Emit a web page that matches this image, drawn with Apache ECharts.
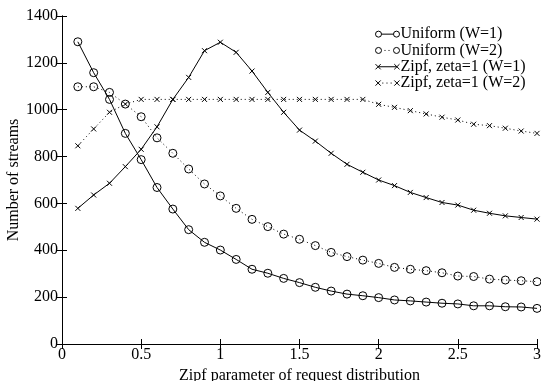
<!DOCTYPE html>
<html>
<head>
<meta charset="utf-8">
<script src="https://cdn.jsdelivr.net/npm/echarts@6/dist/echarts.min.js"></script>
<style>html,body{margin:0;padding:0;background:#fff}#c{width:541px;height:381px}</style>
</head>
<body>
<div id="c"></div>
<script>
var xValues = [0.1,0.2,0.3,0.4,0.5,0.6,0.7,0.8,0.9,1.0,1.1,1.2,1.3,1.4,1.5,1.6,1.7,1.8,1.9,2.0,2.1,2.2,2.3,2.4,2.5,2.6,2.7,2.8,2.9,3.0];
var uniformW1 = [1290,1158,1044,899,787,668,576,488,434,401,361,319,302,280,262,242,226,213,206,198,188,184,179,174,171,163,163,159,158,152];
var uniformW2 = [1098,1098,1074,1024,970,880,814,747,683,632,579,532,501,469,447,420,391,373,358,344,327,319,313,304,290,288,277,273,270,266];
var zipfW1 = [579,636,686,757,831,927,1044,1138,1252,1288,1245,1165,1074,989,913,866,814,767,733,700,676,647,625,604,593,571,558,547,540,533];
var zipfW2 = [846,918,989,1024,1044,1044,1044,1044,1044,1044,1044,1044,1044,1044,1044,1044,1044,1044,1044,1023,1010,996,982,968,956,938,932,921,909,899];
var seriesNames = ['Uniform (W=1)','Uniform (W=2)','Zipf, zeta=1 (W=1)','Zipf, zeta=1 (W=2)'];
var xTitle = 'Zipf parameter of request distribution';
var yTitle = 'Number of streams';

function pairs(ys){ return xValues.map(function(x,i){ return [x, ys[i]]; }); }
var FONT = '"Liberation Serif", "Times New Roman", serif';
var crossPath = 'path://M0,0L10,10M10,0L0,10';

// legend sample icons: marker at both ends, solid or dotted connecting line
var circ = function(cx){ return 'M' + (cx-3) + ',4A3,3 0 1,0 ' + (cx+3) + ',4A3,3 0 1,0 ' + (cx-3) + ',4'; };
var crs = function(cx){ return 'M' + (cx-2.5) + ',1.5L' + (cx+2.5) + ',6.5M' + (cx+2.5) + ',1.5L' + (cx-2.5) + ',6.5'; };
var iconSolidCircle = 'path://' + circ(3) + 'M6,4L18,4' + circ(21);
var iconDotCircle = 'path://' + circ(3) + 'M9,4L10,4M13,4L14,4' + circ(21);
var iconSolidCross = 'path://' + crs(3) + 'M3,4L21,4' + crs(21);
var iconDotCross = 'path://' + crs(3) + 'M7,4L8,4M11,4L12,4M15,4L16,4' + crs(21);

function mk(name, ys, solid, circle){
  return {
    name: name, type: 'line', data: pairs(ys),
    symbol: circle ? 'circle' : crossPath,
    symbolSize: circle ? 8 : 5,
    showSymbol: true,
    animation: false,
    lineStyle: { color: '#000', width: 1, type: solid ? 'solid' : [1,3] },
    itemStyle: { color: 'rgba(0,0,0,0)', borderColor: '#000', borderWidth: 1 },
    emphasis: { disabled: true }
  };
}

var axisLabelFmt = function(v){ return String(v); };

var chart = echarts.init(document.getElementById('c'), null, {renderer: 'canvas'});
chart.setOption({
  backgroundColor: '#fff',
  animation: false,
  textStyle: { fontFamily: FONT },
  grid: { left: 62, right: 4, top: 16, bottom: 37, containLabel: false, outerBoundsMode: 'none' },
  legend: {
    orient: 'vertical', left: 368, top: 21,
    itemWidth: 24, itemHeight: 8, itemGap: 0,
    itemStyle: { color: 'none', borderColor: '#000', borderWidth: 1 },
    textStyle: { fontFamily: FONT, fontSize: 16, lineHeight: 16.3, color: '#000', padding: [0,0,0,-4] },
    data: [
      { name: seriesNames[0], icon: iconSolidCircle },
      { name: seriesNames[1], icon: iconDotCircle },
      { name: seriesNames[2], icon: iconSolidCross },
      { name: seriesNames[3], icon: iconDotCross }
    ]
  },
  xAxis: [{
    type: 'value', min: 0, max: 3, interval: 0.5,
    name: xTitle, nameLocation: 'middle', nameGap: 21,
    nameTextStyle: { fontFamily: FONT, fontSize: 16, color: '#000' },
    axisLine: { show: true, lineStyle: { color: '#000', width: 1 } },
    axisTick: { show: true, inside: true, length: 5, lineStyle: { color: '#000' } },
    axisLabel: { fontFamily: FONT, fontSize: 16, color: '#000', margin: 3, formatter: axisLabelFmt },
    splitLine: { show: false }
  },{
    type: 'value', min: 0, max: 3, interval: 0.5, position: 'top',
    axisLine: { show: true, lineStyle: { color: '#000', width: 1 } },
    axisTick: { show: true, inside: true, length: 5, lineStyle: { color: '#000' } },
    axisLabel: { show: false }, splitLine: { show: false }
  }],
  yAxis: [{
    type: 'value', min: 0, max: 1400, interval: 200,
    name: yTitle, nameLocation: 'middle', nameGap: 40, nameMoveOverlap: false,
    nameTextStyle: { fontFamily: FONT, fontSize: 16, color: '#000' },
    axisLine: { show: true, lineStyle: { color: '#000', width: 1 } },
    axisTick: { show: true, inside: true, length: 5, lineStyle: { color: '#000' } },
    axisLabel: { fontFamily: FONT, fontSize: 16, color: '#000', margin: 4, formatter: axisLabelFmt },
    splitLine: { show: false }
  },{
    type: 'value', min: 0, max: 1400, interval: 200, position: 'right',
    axisLine: { show: true, lineStyle: { color: '#000', width: 1 } },
    axisTick: { show: true, inside: true, length: 5, lineStyle: { color: '#000' } },
    axisLabel: { show: false }, splitLine: { show: false }
  }],
  series: [
    mk(seriesNames[0], uniformW1, true, true),
    mk(seriesNames[1], uniformW2, false, true),
    mk(seriesNames[2], zipfW1, true, false),
    mk(seriesNames[3], zipfW2, false, false)
  ]
});
</script>
</body>
</html>
